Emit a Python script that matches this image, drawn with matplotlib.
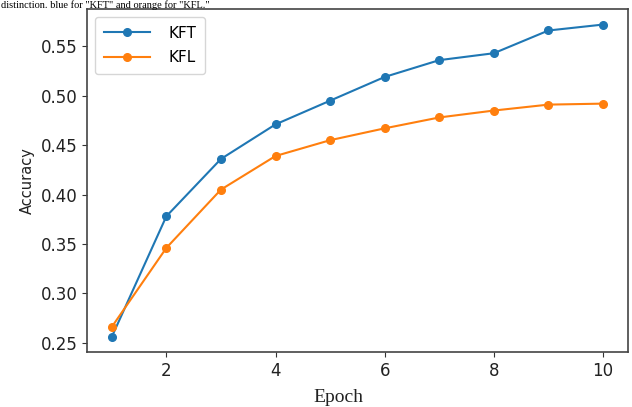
import matplotlib
matplotlib.use("Agg")
import matplotlib.pyplot as plt

epochs = [1, 2, 3, 4, 5, 6, 7, 8, 9, 10]
kft = [0.256, 0.378, 0.436, 0.471, 0.495, 0.519, 0.536, 0.543, 0.566, 0.572]
kfl = [0.266, 0.346, 0.405, 0.439, 0.455, 0.467, 0.478, 0.485, 0.491, 0.492]
xticks = [2, 4, 6, 8, 10]
yticks = [0.25, 0.30, 0.35, 0.40, 0.45, 0.50, 0.55]

fig = plt.figure(figsize=(6.32, 4.07), dpi=100)
ax = fig.add_axes([0.138, 0.134, 0.855, 0.844])
ax.plot(epochs, kft, color="#1f77b4", marker="o", markersize=5.5, lw=1.5, label="KFT")
ax.plot(epochs, kfl, color="#ff7f0e", marker="o", markersize=5.5, lw=1.5, label="KFL")
ax.set_xticks(xticks)
ax.set_yticks(yticks)
ax.set_yticklabels([f"{v:.2f}" for v in yticks])
ax.tick_params(labelsize=12, color="#333333", labelcolor="#222222")
ax.set_ylabel("Accuracy", fontsize=10.5, color="#222222")
for s in ax.spines.values():
    s.set_linewidth(1.2)
    s.set_color("#444444")
ax.legend(loc="upper left", fontsize=11, handlelength=3.0, borderpad=0.6,
          labelspacing=0.6, handletextpad=1.2)
fig.text(338 / 632, 1 - 398 / 407, "Epoch", family="Liberation Serif",
         fontsize=14, ha="center", va="center", color="#222222")
fig.text(0.002, 0.999, 'distinction. blue for "KFT" and orange for "KFL."',
         family="Liberation Serif", fontsize=7.5, ha="left", va="top")
fig.savefig("out.png", dpi=100)
